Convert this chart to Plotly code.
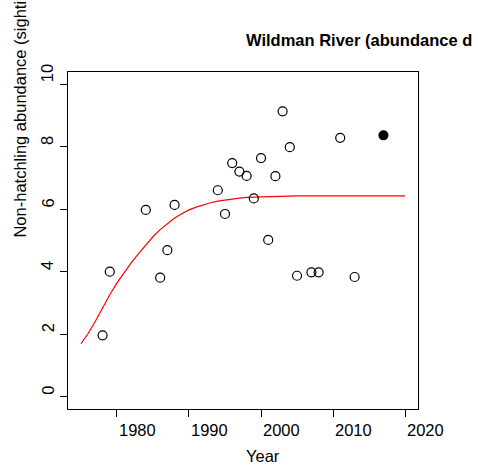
import plotly.graph_objects as go

# Observed non-hatchling abundance by survey year
obs_years = [1978, 1979, 1984, 1986, 1987, 1988, 1994, 1995, 1996, 1997, 1998,
             1999, 2000, 2001, 2002, 2003, 2004, 2005, 2007, 2008, 2011, 2013]
obs_values = [1.96, 4.00, 5.98, 3.81, 4.69, 6.14, 6.61, 5.85, 7.48, 7.21, 7.07,
              6.35, 7.64, 5.02, 7.06, 9.14, 7.99, 3.87, 3.98, 3.98, 8.29, 3.83]

# Most recent survey, highlighted
latest_year = [2017]
latest_value = [8.37]

# Fitted trajectory (one value per year)
fit_years = list(range(1975, 2021))
fit_values = [1.69, 2.02, 2.41, 2.84, 3.26, 3.64, 3.98, 4.29, 4.58, 4.86,
              5.12, 5.35, 5.55, 5.72, 5.86, 5.98, 6.07, 6.15, 6.21, 6.26,
              6.30, 6.33, 6.36, 6.38, 6.39, 6.40, 6.41, 6.42, 6.42, 6.43,
              6.43, 6.43, 6.43, 6.43, 6.43, 6.43, 6.43, 6.43, 6.43, 6.43,
              6.43, 6.43, 6.43, 6.43, 6.43, 6.43]

x_ticks = [1980, 1990, 2000, 2010, 2020]
y_ticks = [0, 2, 4, 6, 8, 10]

title_text = "Wildman River (abundance d"
y_title_text = "Non-hatchling abundance (sighti"
x_title_text = "Year"

FONT = "Liberation Sans, Arial, Helvetica, sans-serif"
FSIZE = 16.5

fig = go.Figure()
fig.add_trace(go.Scatter(
    x=fit_years, y=fit_values, mode="lines",
    line=dict(color="red", width=1.2), hoverinfo="skip"))
fig.add_trace(go.Scatter(
    x=obs_years, y=obs_values, mode="markers",
    marker=dict(symbol="circle-open", size=9, color="black",
                line=dict(color="black", width=1.2))))
fig.add_trace(go.Scatter(
    x=latest_year, y=latest_value, mode="markers",
    marker=dict(symbol="circle", size=10, color="black")))

axis_common = dict(
    showline=True, mirror=True, linecolor="black", linewidth=1.2,
    ticks="outside", ticklen=7, tickwidth=1.2, tickcolor="black",
    showgrid=False, zeroline=False, showticklabels=False,
)

# Tick labels start at their tick (text is start-anchored throughout)
annotations = []
for t in x_ticks:
    annotations.append(dict(
        text=str(t), xref="x", yref="paper", x=t, y=-0.062,
        xanchor="left", yanchor="middle", showarrow=False,
        font=dict(family=FONT, size=FSIZE, color="black")))
for t in y_ticks:
    annotations.append(dict(
        text=str(t), xref="paper", yref="y", x=-0.058, y=t,
        xanchor="center", yanchor="bottom", textangle=-90, showarrow=False,
        font=dict(family=FONT, size=FSIZE, color="black")))

annotations += [
    dict(text="<b>" + title_text + "</b>",
         xref="paper", yref="paper", x=0.503, y=1.095,
         xanchor="left", yanchor="middle", showarrow=False,
         font=dict(family=FONT, size=FSIZE, color="black")),
    dict(text=y_title_text,
         xref="paper", yref="paper", x=-0.137, y=0.5015,
         xanchor="center", yanchor="bottom", textangle=-90,
         showarrow=False,
         font=dict(family=FONT, size=FSIZE, color="black")),
    dict(text=x_title_text,
         xref="paper", yref="paper", x=0.503, y=-0.139,
         xanchor="left", yanchor="middle", showarrow=False,
         font=dict(family=FONT, size=FSIZE, color="black")),
]

fig.update_layout(
    width=478, height=468,
    margin=dict(l=68, r=60, t=72, b=59),
    paper_bgcolor="white", plot_bgcolor="white",
    showlegend=False,
    font=dict(family=FONT, color="black"),
    xaxis=dict(range=[1973.2, 2021.8], tickvals=x_ticks, **axis_common),
    yaxis=dict(range=[-0.4, 10.4], tickvals=y_ticks, **axis_common),
    annotations=annotations,
)

fig.write_html("out.html")
